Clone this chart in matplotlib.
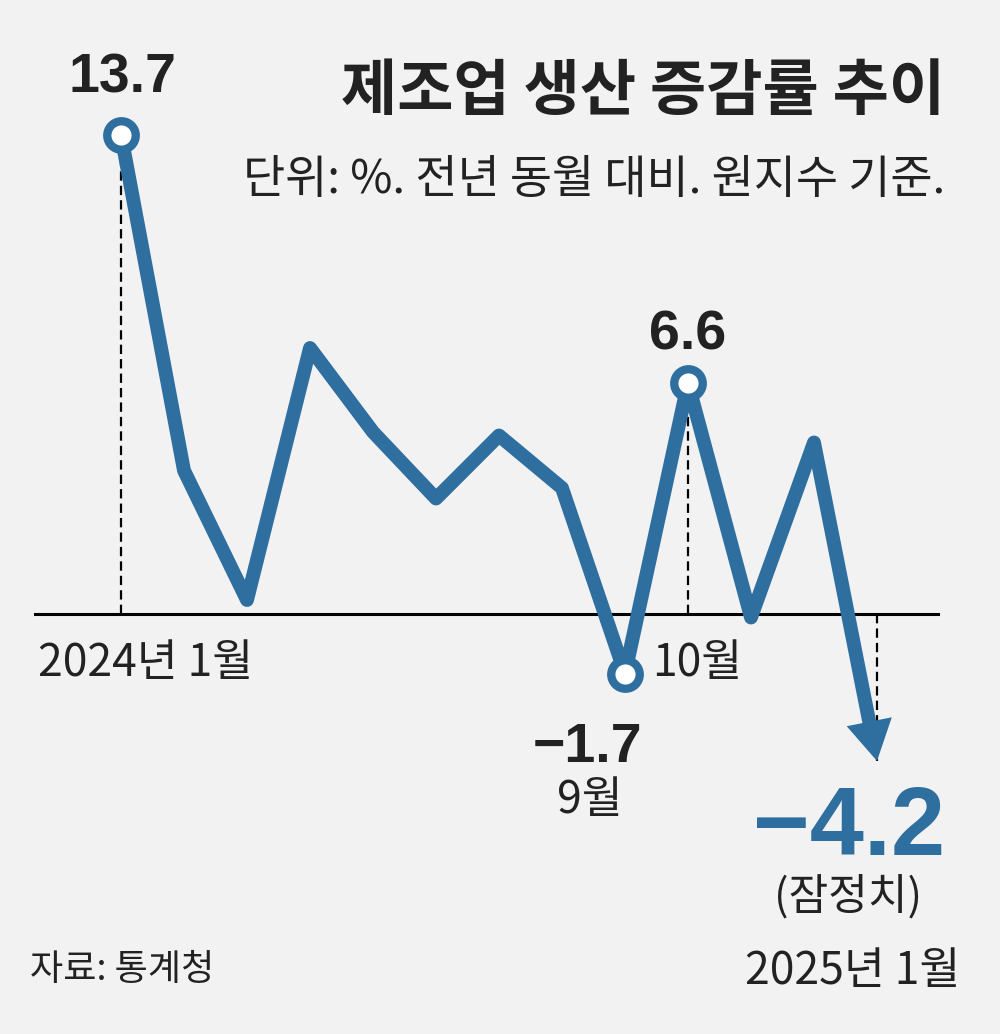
import matplotlib
matplotlib.use('Agg')
import matplotlib.pyplot as plt
import numpy as np
from matplotlib.patches import Polygon

# 제조업 생산 증감률 (전년 동월 대비, %), 2024년 1월 ~ 2025년 1월
months = ['2024-01', '2024-02', '2024-03', '2024-04', '2024-05', '2024-06', '2024-07',
          '2024-08', '2024-09', '2024-10', '2024-11', '2024-12', '2025-01']
values = [13.7, 4.1, 0.4, 7.6, 5.2, 3.3, 5.1, 3.6, -1.7, 6.6, -0.1, 4.9, -4.2]
marked = [0, 8, 9]          # 원으로 표시한 달
dashed = [0, 9, 12]         # 점선 달

title = '제조업 생산 증감률 추이'
subtitle = '단위: %. 전년 동월 대비. 원지수 기준.'
source = '자료: 통계청'

BLUE = '#2f6fa0'
BG = '#f2f2f2'
INK = '#222222'
KR = ['Noto Sans CJK KR', 'DejaVu Sans']
NUM = ['Liberation Sans', 'DejaVu Sans']

fig = plt.figure(figsize=(10, 10.34), dpi=100, facecolor=BG)
ax = fig.add_axes([0, 0, 1, 1])
ax.set_facecolor(BG)
ax.axis('off')

x = np.arange(len(values))
v = np.array(values)
ax.set_xlim(-121 / 63, 879 / 63)
ax.set_ylim(-420 / 35, 614 / 35)

# 기준선
ax.plot([-1.37, 12.97], [0, 0], color='black', lw=2.2, zorder=2)

# 점선
for i in dashed:
    ax.plot([x[i], x[i]], [0, v[i]], color='black', lw=1.6,
            dashes=(4.2, 2.3), zorder=1)

# 마지막 화살표: 화면 좌표에서 머리 계산
pts = ax.transData.transform(np.column_stack([x, v]))
p0, p1 = pts[-2], pts[-1]
u = (p1 - p0) / np.linalg.norm(p1 - p0)
nrm = np.array([-u[1], u[0]])
head_len, head_half = 40, 23
base = p1 - u * head_len
tri = ax.transData.inverted().transform(np.array([p1, base + nrm * head_half, base - nrm * head_half]))
end = ax.transData.inverted().transform(base + u * 5)

lx = list(x[:-1]) + [end[0]]
ly = list(v[:-1]) + [end[1]]
ax.plot(lx, ly, color=BLUE, lw=10, solid_joinstyle='round', solid_capstyle='butt', zorder=3)
ax.add_patch(Polygon(tri, closed=True, facecolor=BLUE, edgecolor='none', zorder=3))

ax.plot(x[marked], v[marked], 'o', ms=20.5, mfc='white', mec=BLUE, mew=6, zorder=5)

def lab(txt, i, val, dx, dy, fam, size, ha='center', va='baseline', color=INK, weight='normal'):
    ax.annotate(txt, (i, val), xytext=(dx, dy), textcoords='offset pixels',
                ha=ha, va=va, fontsize=size, family=fam, color=color, weight=weight)

lab('13.7', 0, values[0], 1, 42, NUM, 40, weight='bold')
lab('6.6', 9, values[9], 0, 34, NUM, 40, weight='bold')
lab('\u22121.7', 8, values[8], -37, -88, NUM, 40, weight='bold')
lab('\u22124.2', 12, values[12], 68, -94, NUM, 70, ha='right', color=BLUE, weight='bold')

lab('2024년 1월', 0, 0, -83, -49, KR, 32, ha='left', va='center')
lab('10월', 9, 0, 9, -49, KR, 32, va='center')
lab('9월', 8, values[8], -35, -127, KR, 32, va='center')
lab('(잠정치)', 12, values[12], -29, -136, KR, 31, va='center')
lab('2025년 1월', 12, values[12], 83, -210, KR, 32, ha='right', va='center')

fig.text(0.945, 1 - 92 / 1034, title, ha='right', va='center', fontsize=44,
         family=KR, weight='bold', color=INK)
fig.text(0.945, 1 - 180 / 1034, subtitle, ha='right', va='center', fontsize=33,
         family=KR, color=INK)
fig.text(0.03, 1 - 970 / 1034, source, ha='left', va='center', fontsize=26,
         family=KR, color=INK)

fig.savefig('out.png', dpi=100, facecolor=BG)
